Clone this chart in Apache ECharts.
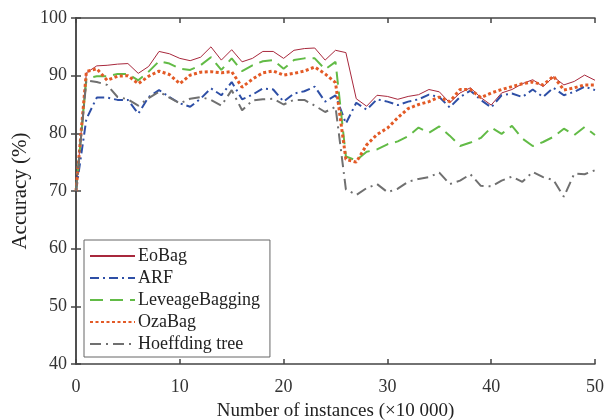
<!DOCTYPE html>
<html>
<head>
<meta charset="utf-8">
<script src="https://cdn.jsdelivr.net/npm/echarts@6/dist/echarts.min.js"></script>
<style>
  html, body { margin: 0; padding: 0; background: #fff; }
  #main { width: 614px; height: 420px; }
</style>
</head>
<body>
<div id="main"></div>
<script>
// x: number of instances (x10 000)
var instances = [0, 1, 2, 3, 4, 5, 6, 7, 8, 9, 10, 11, 12, 13, 14, 15, 16, 17, 18, 19, 20,
  21, 22, 23, 24, 25, 26, 27, 28, 29, 30, 31, 32, 33, 34, 35, 36, 37, 38, 39, 40,
  41, 42, 43, 44, 45, 46, 47, 48, 49, 50];

var eoBag = [70.0, 90.5, 91.7, 91.8, 92.0, 92.1, 90.4, 91.6, 94.2, 93.8, 93.0, 92.6, 93.2, 95.0, 92.7, 94.5, 92.4,
  93.0, 94.2, 94.2, 93.0, 94.4, 94.7, 94.8, 92.7, 94.4, 94.0, 86.0, 84.7, 86.6, 86.4, 85.9, 86.4, 86.7,
  87.6, 87.2, 85.3, 87.0, 87.9, 86.2, 84.9, 87.0, 87.6, 88.6, 89.3, 88.1, 89.8, 88.4, 89.0, 90.1, 89.2];

var arf = [70.0, 82.5, 86.2, 86.2, 85.8, 85.8, 83.4, 86.3, 87.5, 86.3, 85.2, 84.6, 86.0, 87.8, 86.6, 88.9, 85.9,
  86.7, 87.8, 87.6, 85.5, 86.9, 87.3, 88.1, 85.5, 86.6, 81.7, 85.3, 84.1, 85.9, 85.5, 84.9, 85.5, 85.9,
  86.7, 86.3, 84.5, 86.3, 87.4, 85.8, 84.5, 86.6, 86.9, 86.3, 87.6, 86.3, 87.9, 86.6, 87.2, 88.1, 87.5];

var leveage = [70.0, 89.5, 89.9, 89.9, 90.3, 90.3, 89.2, 90.7, 92.5, 92.1, 91.2, 91.0, 91.8, 93.2, 91.0, 93.0, 90.8,
  91.8, 92.5, 92.7, 91.2, 92.7, 93.0, 93.0, 91.1, 92.4, 76.0, 75.3, 76.8, 77.2, 78.1, 78.6, 79.5, 81.0,
  80.1, 81.2, 79.6, 77.8, 78.4, 79.2, 81.0, 79.9, 81.3, 79.1, 77.8, 78.5, 79.4, 80.8, 79.7, 81.1, 79.7];

var ozaBag = [70.0, 90.7, 91.2, 89.2, 89.9, 90.0, 88.6, 89.9, 90.8, 90.2, 88.6, 90.1, 90.6, 90.7, 90.5, 90.7, 88.0,
  89.4, 90.5, 90.8, 90.1, 90.4, 90.8, 91.5, 90.3, 88.8, 75.5, 75.0, 78.0, 79.8, 80.9, 82.7, 84.3, 85.0,
  85.5, 86.3, 85.5, 87.6, 87.6, 86.2, 87.0, 87.6, 88.1, 88.6, 88.9, 88.4, 89.9, 87.5, 87.9, 88.4, 88.4];

var hoeffding = [70.0, 89.2, 88.9, 88.4, 86.3, 85.9, 84.8, 86.1, 87.2, 86.2, 85.2, 86.0, 86.3, 85.8, 84.8, 87.5, 84.0,
  85.7, 85.9, 86.0, 85.0, 85.8, 85.8, 84.8, 83.7, 84.6, 70.3, 69.3, 70.5, 71.2, 69.8, 70.4, 71.6, 72.1,
  72.4, 73.2, 71.2, 71.8, 72.9, 70.9, 70.8, 71.8, 72.5, 71.6, 73.3, 72.4, 71.9, 69.0, 73.0, 72.9, 73.6];

var xTicks = [0, 10, 20, 30, 40, 50];
var yTicks = [40, 50, 60, 70, 80, 90, 100];

var FONT = '"Liberation Serif", "Times New Roman", serif';
var AXIS_COLOR = '#444';

function pairs(vals) {
  return vals.map(function (v, i) { return [instances[i], v]; });
}

function mkSeries(name, vals, color, width, type) {
  return {
    name: name,
    type: 'line',
    data: pairs(vals),
    symbol: 'none',
    xAxisIndex: 0,
    yAxisIndex: 0,
    lineStyle: { color: color, width: width, type: type, cap: 'butt' },
    itemStyle: { color: color },
    emphasis: { disabled: true }
  };
}

var myChart = echarts.init(document.getElementById('main'));

var boxAxis = {
  axisLine: { show: true, lineStyle: { color: AXIS_COLOR, width: 1.5 } },
  axisTick: { show: true, inside: true, length: 5, lineStyle: { color: AXIS_COLOR, width: 1.5 } },
  splitLine: { show: false }
};

var option = {
  animation: false,
  backgroundColor: '#fff',
  grid: { left: 76, right: 19, top: 18, bottom: 56, outerBoundsMode: 'none', containLabel: false },
  xAxis: [
    Object.assign({
      type: 'value', min: xTicks[0], max: xTicks[xTicks.length - 1], interval: 10,
      position: 'bottom',
      name: 'Number of instances (\u00d710 000)',
      nameLocation: 'middle', nameGap: 38,
      nameTextStyle: { fontFamily: FONT, fontSize: 19, color: '#222' },
      axisLabel: { fontFamily: FONT, fontSize: 18, color: '#333', margin: 14 }
    }, boxAxis),
    Object.assign({
      type: 'value', min: xTicks[0], max: xTicks[xTicks.length - 1], interval: 10,
      position: 'top', axisLabel: { show: false }
    }, boxAxis)
  ],
  yAxis: [
    Object.assign({
      type: 'value', min: yTicks[0], max: yTicks[yTicks.length - 1], interval: 10,
      position: 'left',
      name: 'Accuracy (%)',
      nameLocation: 'middle', nameGap: 45, nameMoveOverlap: false,
      nameTextStyle: { fontFamily: FONT, fontSize: 21, color: '#222' },
      axisLabel: { fontFamily: FONT, fontSize: 18, color: '#333', margin: 9 }
    }, boxAxis),
    Object.assign({
      type: 'value', min: yTicks[0], max: yTicks[yTicks.length - 1], interval: 10,
      position: 'right', axisLabel: { show: false }
    }, boxAxis)
  ],
  legend: {
    orient: 'vertical',
    left: 84, top: 240,
    padding: [7, 10, 4, 5],
    itemWidth: 45, itemHeight: 14, itemGap: 4,
    backgroundColor: '#fff',
    borderColor: '#666', borderWidth: 1,
    itemStyle: { opacity: 0, color: 'rgba(0,0,0,0)', borderWidth: 0 },
    textStyle: { fontFamily: FONT, fontSize: 18, color: '#222', padding: [0, 0, 0, -2] },
    data: ['EoBag', 'ARF', 'LeveageBagging', 'OzaBag', 'Hoeffding tree']
  },
  series: [
    mkSeries('EoBag', eoBag, '#A8283C', 1, 'solid'),
    mkSeries('ARF', arf, '#2E4FA6', 2, [9, 4, 2, 4]),
    mkSeries('LeveageBagging', leveage, '#62BB46', 2, [13, 7]),
    mkSeries('OzaBag', ozaBag, '#E35A26', 3, [3, 2.5]),
    mkSeries('Hoeffding tree', hoeffding, '#707070', 2, [11, 5, 2, 5])
  ]
};

myChart.setOption(option);
</script>
</body>
</html>
